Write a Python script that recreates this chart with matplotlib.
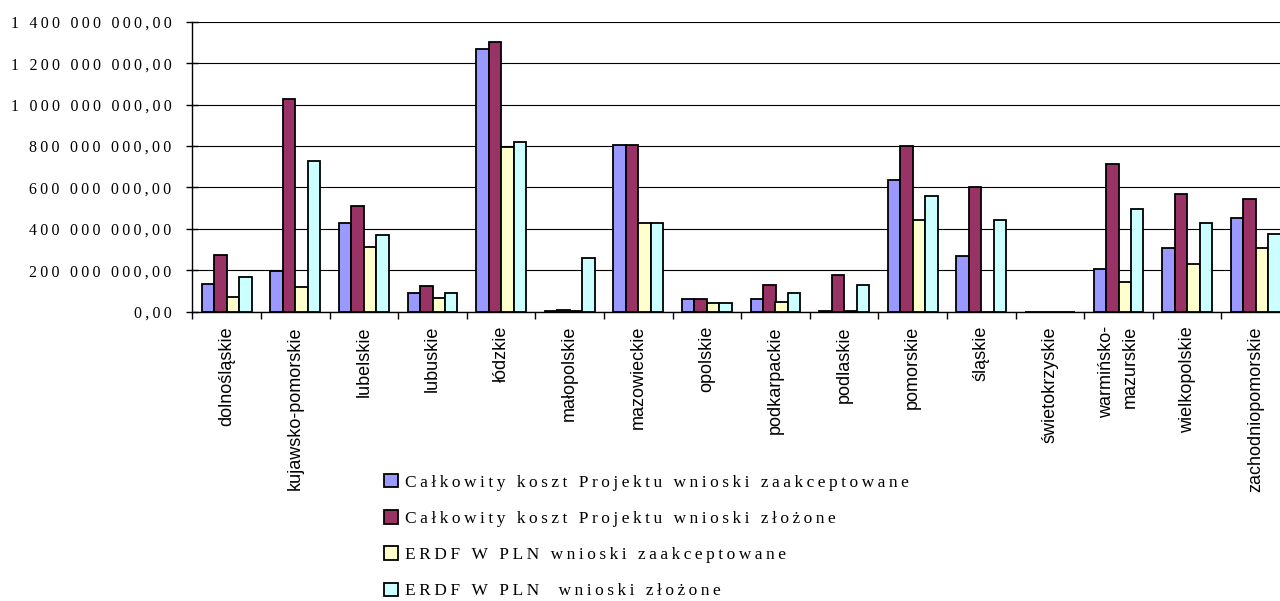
import matplotlib
matplotlib.use("Agg")
import matplotlib.pyplot as plt
import numpy as np
from matplotlib.ticker import FuncFormatter, MultipleLocator

categories = ["dolnośląskie", "kujawsko-pomorskie", "lubelskie", "lubuskie", "łódzkie",
              "małopolskie", "mazowieckie", "opolskie", "podkarpackie", "podlaskie",
              "pomorskie", "śląskie", "świetokrzyskie", "warmińsko-\nmazurskie",
              "wielkopolskie", "zachodniopomorskie"]

series_names = ["Całkowity koszt Projektu wnioski zaakceptowane",
                "Całkowity koszt Projektu wnioski złożone",
                "ERDF W PLN wnioski zaakceptowane",
                "ERDF W PLN  wnioski złożone"]

koszt_zaakceptowane = [131e6, 197e6, 428e6, 91e6, 1270e6, 4e6, 804e6, 62e6, 60e6, 3e6,
                       635e6, 269e6, 0, 204e6, 307e6, 452e6]
koszt_zlozone = [273e6, 1027e6, 512e6, 122e6, 1303e6, 5e6, 804e6, 62e6, 127e6, 175e6,
                 798e6, 602e6, 0, 712e6, 570e6, 546e6]
erdf_zaakceptowane = [72e6, 118e6, 310e6, 64e6, 794e6, 1e6, 427e6, 43e6, 46e6, 1e6,
                      443e6, 0, 0, 143e6, 228e6, 306e6]
erdf_zlozone = [165e6, 728e6, 372e6, 90e6, 820e6, 259e6, 427e6, 43e6, 90e6, 128e6,
                559e6, 441e6, 0, 494e6, 427e6, 375e6]

colors = ["#9999FF", "#993366", "#FFFFCC", "#CCFFFF"]

THIN = "\u2009"

def spaced(s):
    return THIN.join(list(s))

def yfmt(v, pos):
    s = f"{v:,.2f}".replace(",", " ").replace(".", ",")
    return spaced(s)

serif = ["Liberation Serif", "DejaVu Serif"]

fig = plt.figure(figsize=(12.8, 6.01), dpi=100)
ax = fig.add_axes([192.4 / 1280, 1 - 311.5 / 601, (1290 - 192.4) / 1280, (311.5 - 22) / 601])

x = np.arange(len(categories))
bw = 0.182
data = [koszt_zaakceptowane, koszt_zlozone, erdf_zaakceptowane, erdf_zlozone]
handles = []
for i, (vals, c) in enumerate(zip(data, colors)):
    h = ax.bar(x + (i - 1.5) * bw, vals, width=bw, color=c, edgecolor="black",
               linewidth=1.3, zorder=3, clip_on=False)
    handles.append(h)

ax.set_xlim(-0.5, len(categories) - 0.5)
ax.set_ylim(0, 1400e6)
ax.yaxis.set_major_locator(MultipleLocator(200e6))
ax.yaxis.set_major_formatter(FuncFormatter(yfmt))
ax.grid(axis="y", color="black", linewidth=0.8, zorder=0)
for sp in ["top", "right"]:
    ax.spines[sp].set_visible(False)
for sp in ["left", "bottom"]:
    ax.spines[sp].set_linewidth(1.0)

ax.set_xticks(np.arange(len(categories) + 1) - 0.5)
ax.set_xticklabels([])
ax.set_xticks(x, minor=True)
ax.set_xticklabels(categories, minor=True, rotation=90, fontsize=13,
                   family=["Liberation Sans", "DejaVu Sans"])
ax.tick_params(axis="x", which="minor", length=0, pad=10.5)
ax.tick_params(axis="x", which="major", length=5, direction="out", width=1)
for lbl in ax.get_xticklabels(minor=True):
    lbl.set_multialignment("right")
    lbl.set_linespacing(1.5)
ax.tick_params(axis="y", length=8, direction="inout", width=1, pad=11)
for lbl in ax.get_yticklabels():
    lbl.set_family(serif)
    lbl.set_fontsize(11.5)

leg = fig.legend(handles, [spaced(n) for n in series_names], loc="upper left",
                 bbox_to_anchor=(372 / 1280, 1 - 462 / 601), frameon=False,
                 prop={"family": serif, "size": 12.5}, handlelength=0.8, handleheight=0.8,
                 handletextpad=0.4, labelspacing=1.12, borderpad=0.2)

fig.savefig("out.png", dpi=100)
